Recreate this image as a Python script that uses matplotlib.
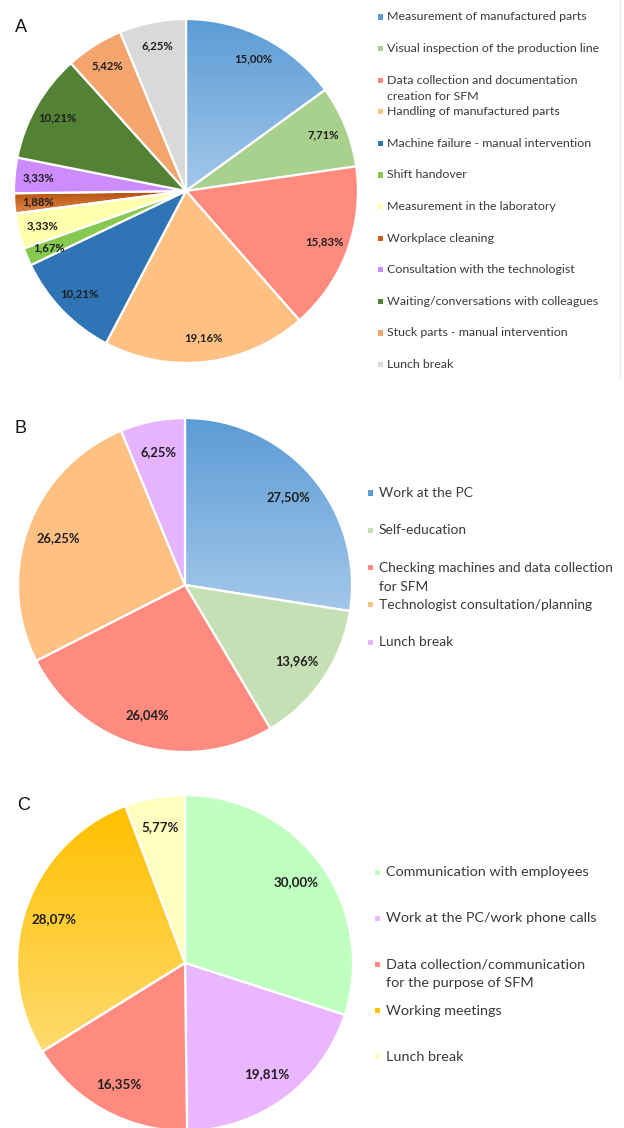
"""Three pie charts (A, B, C) with work-time shares and side legends."""

import matplotlib

matplotlib.use("Agg")
import matplotlib.pyplot as plt
import numpy as np
from matplotlib.lines import Line2D
from matplotlib.patches import Rectangle

W, H = 624, 1128

# --- data -------------------------------------------------------------------
labels_a = [
    "Measurement of manufactured parts",
    "Visual inspection of the production line",
    "Data collection and documentation\ncreation for SFM",
    "Handling of manufactured parts",
    "Machine failure - manual intervention",
    "Shift handover",
    "Measurement in the laboratory",
    "Workplace cleaning",
    "Consultation with the technologist",
    "Waiting/conversations with colleagues",
    "Stuck parts - manual intervention",
    "Lunch break",
]
values_a = [15.00, 7.71, 15.83, 19.16, 10.21, 1.67, 3.33, 1.88, 3.33, 10.21, 5.42, 6.25]

labels_b = [
    "Work at the PC",
    "Self-education",
    "Checking machines and data collection\nfor SFM",
    "Technologist consultation/planning",
    "Lunch break",
]
values_b = [27.50, 13.96, 26.04, 26.25, 6.25]

labels_c = [
    "Communication with employees",
    "Work at the PC/work phone calls",
    "Data collection/communication\nfor the purpose of SFM",
    "Working meetings",
    "Lunch break",
]
values_c = [30.00, 19.81, 16.35, 28.07, 5.77]

# --- styling ----------------------------------------------------------------
colors_a = ["#5B9BD5", "#A9D18E", "#FF8B7F", "#FFC183", "#2F75B5", "#86C94E",
            "#FFFFAE", "#C8601A", "#CC8CFF", "#548235", "#F4A56E", "#D9D9D9"]
colors_b = ["#5B9BD5", "#C5E0B4", "#FF8B80", "#FFC083", "#E5B3FF"]
colors_c = ["#BFFFBF", "#E9B6FF", "#FF8B80", "#FFC000", "#FFFFC0"]

FONT = ["Lato", "DejaVu Sans"]
TEXT_COLOR = "#3a3a3a"


def px(x, y):
    """Pixel position (from top-left) -> figure fraction."""
    return x / W, 1 - y / H


def fmt_pct(p):
    return f"{p:.2f}%".replace(".", ",")


def gradient_fill(ax, wedge, c_top, c_bottom):
    verts = wedge.get_path().vertices
    x0, x1 = verts[:, 0].min(), verts[:, 0].max()
    y0, y1 = verts[:, 1].min(), verts[:, 1].max()
    top = np.array(matplotlib.colors.to_rgb(c_top))
    bot = np.array(matplotlib.colors.to_rgb(c_bottom))
    t = np.linspace(0, 1, 256)[:, None]
    img = (top * (1 - t) + bot * t)[:, None, :]
    im = ax.imshow(img, extent=(x0, x1, y0, y1), origin="upper",
                   aspect="auto", zorder=0.5, interpolation="bilinear")
    im.set_clip_path(wedge)
    wedge.set_facecolor("none")


def draw_pie(cx, cy, r, values, colors, pctdist, fsize, gradients=None):
    ax = fig.add_axes([(cx - r) / W, 1 - (cy + r) / H, 2 * r / W, 2 * r / H])
    wedges, texts, autotexts = ax.pie(
        values, colors=colors, startangle=90, counterclock=False,
        autopct=lambda p: fmt_pct(p), pctdistance=pctdist,
        wedgeprops=dict(edgecolor="white", linewidth=1.6),
        textprops=dict(fontsize=fsize, fontweight="bold", color="#1e1e1e",
                       family=FONT),
    )
    for idx, (ct, cb) in (gradients or {}).items():
        gradient_fill(ax, wedges[idx], ct, cb)
    ax.set_xlim(-1, 1)
    ax.set_ylim(-1, 1)
    ax.axis("off")
    return ax


def draw_legend(labels, colors, x_mark, x_text, y0, step, line_gap, fsize):
    for i, (lab, col) in enumerate(zip(labels, colors)):
        y = y0 + i * step
        mx, my = px(x_mark - 2.5, y + 2.5)
        fig.add_artist(Rectangle((mx, my), 5 / W, 5 / H, transform=fig.transFigure,
                                 facecolor=col, edgecolor="none"))
        for j, line in enumerate(lab.split("\n")):
            tx, ty = px(x_text, y + j * line_gap)
            fig.text(tx, ty, line, ha="left", va="center", fontsize=fsize,
                     color=TEXT_COLOR, family=FONT)


fig = plt.figure(figsize=(W / 100, H / 100), dpi=100)
fig.patch.set_facecolor("white")

# A
draw_pie(186, 191, 172, values_a, colors_a, 0.86, 8.2,
         gradients={0: ("#5B9BD5", "#A4C8EA"), 7: ("#B4500E", "#E08A4A")})
draw_legend(labels_a, colors_a, 380, 387, 17, 31.6, 16, 8.9)
fig.add_artist(Line2D([620 / W, 620 / W], [1, 1 - 378 / H], transform=fig.transFigure,
                      color="#e8e8e8", linewidth=1))

# B
draw_pie(185, 585, 167, values_b, colors_b, 0.81, 9.3,
         gradients={0: ("#5B9BD5", "#A4C8EA")})
draw_legend(labels_b, colors_b, 370, 379, 493, 37.3, 19, 9.9)

# C
draw_pie(185, 963, 168, values_c, colors_c, 0.82, 9.6,
         gradients={3: ("#FFC000", "#FFDA6E")})
draw_legend(labels_c, colors_c, 377, 386, 872, 46.2, 19, 10.4)

for letter, (x, y) in zip("ABC", [(15, 27), (15, 429), (17, 806)]):
    fx, fy = px(x, y)
    fig.text(fx, fy, letter, ha="left", va="center", fontsize=13,
             family=["Liberation Sans", "DejaVu Sans"], color="#111111")

fig.savefig("out.png", dpi=100)
